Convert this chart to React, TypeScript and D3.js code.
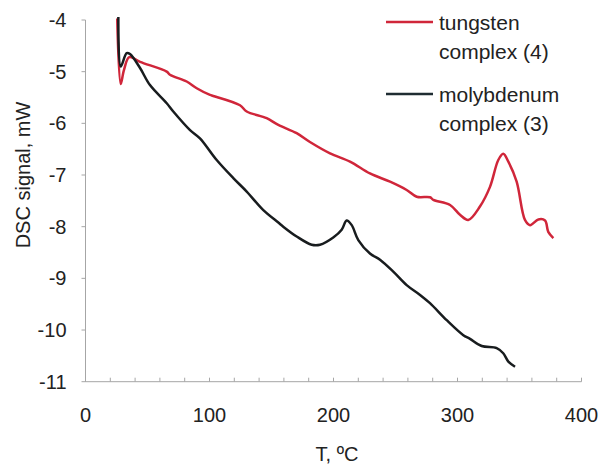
import React from "react";
import * as d3 from "d3";

const tungstenT = [25.6, 28.4, 31, 35.3, 44, 65.5, 68.1, 81.6, 89.7, 100.4, 103, 124.6, 130, 146.1, 155.5, 170.3, 181, 197.2, 213.3, 229.4, 245.6, 259, 267.1, 277.8, 280.5, 294, 302, 308.7, 318.1, 326.2, 332.9, 336.9, 341, 347.7, 354.4, 358.5, 365.2, 370.6, 373.2, 377.3];
const tungstenV = [-3.97, -5.24, -4.97, -4.72, -4.81, -5.0, -5.06, -5.19, -5.32, -5.45, -5.47, -5.65, -5.77, -5.9, -6.03, -6.19, -6.36, -6.58, -6.74, -6.97, -7.13, -7.29, -7.42, -7.43, -7.48, -7.58, -7.77, -7.87, -7.61, -7.23, -6.71, -6.59, -6.74, -7.13, -7.87, -7.97, -7.86, -7.88, -8.1, -8.22];

const molyT = [26.5, 28.4, 33.2, 35.9, 44, 52, 65.5, 70.8, 84.3, 92.3, 105.8, 119.2, 130, 143.4, 155.5, 159.5, 170.3, 182.4, 189.1, 199.8, 206.6, 210.6, 214.7, 220, 229.4, 237.5, 248.2, 259, 269.8, 277.8, 291.3, 304.7, 310.1, 319.5, 331.6, 336.9, 341, 346.4];
const molyV = [-3.94, -4.9, -4.64, -4.66, -4.93, -5.26, -5.61, -5.77, -6.13, -6.29, -6.71, -7.06, -7.32, -7.68, -7.92, -8.0, -8.19, -8.35, -8.35, -8.21, -8.06, -7.88, -7.97, -8.26, -8.52, -8.64, -8.87, -9.13, -9.32, -9.48, -9.81, -10.1, -10.17, -10.31, -10.35, -10.45, -10.61, -10.71];

const xTicks = [0, 100, 200, 300, 400];
const xMinor = d3.range(0, 401, 20);
const yTicks = [-4, -5, -6, -7, -8, -9, -10, -11];
const legendLabels = [["tungsten", "complex (4)"], ["molybdenum", "complex (3)"]];

const RED = "#d0263a";
const BLACK = "#181c1e";
const AXIS = "#a6a6a6";
const FONT = "Liberation Sans, Arial, sans-serif";

export default function App() {
  const x = d3.scaleLinear().domain([0, 400]).range([85.5, 581.5]);
  const y = d3.scaleLinear().domain([-4, -11]).range([20, 381.7]);
  const line = d3
    .line<[number, number]>()
    .x((d) => x(d[0]))
    .y((d) => y(d[1]))
    .curve(d3.curveCatmullRom.alpha(0.5));
  const red = tungstenT.map((t, i) => [t, tungstenV[i]] as [number, number]);
  const blk = molyT.map((t, i) => [t, molyV[i]] as [number, number]);
  const x0 = x(0);
  const yb = y(-11);
  return (
    <svg width={601} height={466} style={{ position: "absolute", left: 0, top: 0 }} fontFamily={FONT}>
      <rect width={601} height={466} fill="#fff" />
      <line x1={x0} x2={x0} y1={y(-4)} y2={yb} stroke={AXIS} strokeWidth={1} />
      <line x1={x0} x2={x(400)} y1={yb} y2={yb} stroke={AXIS} strokeWidth={1} />
      {yTicks.map((t) => (
        <g key={t}>
          <line x1={x0 - 4} x2={x0} y1={y(t)} y2={y(t)} stroke={AXIS} />
          <text x={66.5} y={y(t)} dy="0.35em" textAnchor="end" fontSize={20} fill="#222">
            {t}
          </text>
        </g>
      ))}
      {xMinor.map((t) => (
        <line key={t} x1={x(t)} x2={x(t)} y1={yb - 4} y2={yb} stroke={AXIS} />
      ))}
      {xTicks.map((t) => (
        <text key={t} x={x(t)} y={421.5} textAnchor="middle" fontSize={20} fill="#222">
          {t}
        </text>
      ))}
      <text x={337} y={461} textAnchor="middle" fontSize={20} fill="#222">
        T, ºC
      </text>
      <text transform="translate(30,175) rotate(-90)" textAnchor="middle" fontSize={20} fill="#222">
        DSC signal, mW
      </text>
      <path d={line(red) || ""} fill="none" stroke={RED} strokeWidth={2.5} strokeLinejoin="round" />
      <path d={line(blk) || ""} fill="none" stroke={BLACK} strokeWidth={2.5} strokeLinejoin="round" />
      <line x1={386} x2={433} y1={22} y2={22} stroke={RED} strokeWidth={2.5} />
      <line x1={386} x2={433} y1={94} y2={94} stroke="#1f2c32" strokeWidth={2.5} />
      {legendLabels.map((lab, i) => (
        <text key={i} x={439} y={i === 0 ? 30 : 102} fontSize={21} fill="#222">
          <tspan x={439}>{lab[0]}</tspan>
          <tspan x={439} dy={28.5}>{lab[1]}</tspan>
        </text>
      ))}
    </svg>
  );
}
